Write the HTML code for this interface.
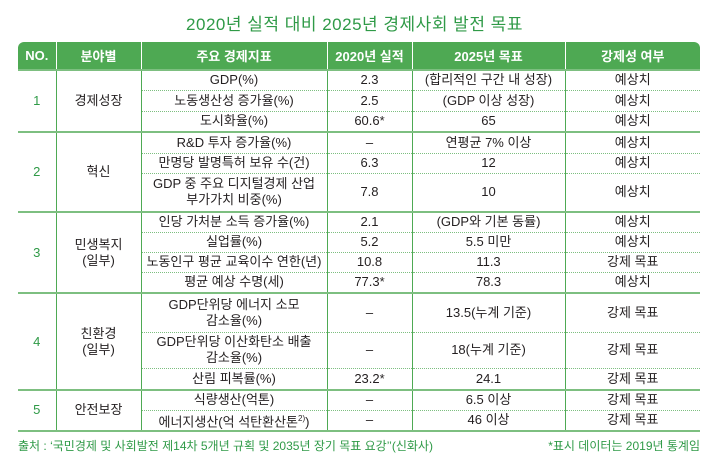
<!DOCTYPE html>
<html><head><meta charset="utf-8">
<style>
body{margin:0;width:709px;height:461px;background:#fff;font-family:"Liberation Sans","Noto Sans CJK KR",sans-serif;color:#231f20;position:relative;overflow:hidden}
.title{position:absolute;left:0;width:709px;top:10px;text-align:center;font-size:17px;color:#2f9a47;letter-spacing:0.5px}
table{position:absolute;left:18px;top:42px;border-collapse:collapse;table-layout:fixed;width:682px;font-size:13px}
th{background:#4ea953;color:#fff;font-weight:bold;height:27px;padding:0;border-left:1px solid #fff;font-size:13px}
th:first-child{border-left:none;border-top-left-radius:6px}
th:last-child{border-top-right-radius:6px}
td{padding:0;text-align:center;border-left:1px solid #4ea953;border-top:1px dotted #7dbf80;line-height:16px;color:#231f20}
td.g{border-top:2px solid #7dbf80}
td.num{border-left:none;color:#2f9a47}
tr.last td{border-bottom:2px solid #7dbf80}
.foot{position:absolute;top:437px;font-size:12px;color:#2f9a47}
</style></head><body>
<div class="title">2020년 실적 대비 2025년 경제사회 발전 목표</div>
<table>
<colgroup><col style="width:38px"><col style="width:85px"><col style="width:186px"><col style="width:85px"><col style="width:153px"><col style="width:135px"></colgroup>
<tr><th>NO.</th><th>분야별</th><th>주요 경제지표</th><th>2020년 실적</th><th>2025년 목표</th><th>강제성 여부</th></tr>
<tr style="height:20px"><td class="g num" rowspan="3">1</td><td class="g" rowspan="3">경제성장</td><td class="g">GDP(%)</td><td class="g">2.3</td><td class="g">(합리적인 구간 내 성장)</td><td class="g">예상치</td></tr>
<tr style="height:21px"><td>노동생산성 증가율(%)</td><td>2.5</td><td>(GDP 이상 성장)</td><td>예상치</td></tr>
<tr style="height:21px"><td>도시화율(%)</td><td>60.6*</td><td>65</td><td>예상치</td></tr>
<tr style="height:21px"><td class="g num" rowspan="3">2</td><td class="g" rowspan="3">혁신</td><td class="g">R&amp;D 투자 증가율(%)</td><td class="g">–</td><td class="g">연평균 7% 이상</td><td class="g">예상치</td></tr>
<tr style="height:20px"><td>만명당 발명특허 보유 수(건)</td><td>6.3</td><td>12</td><td>예상치</td></tr>
<tr style="height:39px"><td>GDP 중 주요 디지털경제 산업<br>부가가치 비중(%)</td><td>7.8</td><td>10</td><td>예상치</td></tr>
<tr style="height:20px"><td class="g num" rowspan="4">3</td><td class="g" rowspan="4">민생복지<br>(일부)</td><td class="g">인당 가처분 소득 증가율(%)</td><td class="g">2.1</td><td class="g">(GDP와 기본 동률)</td><td class="g">예상치</td></tr>
<tr style="height:20px"><td>실업률(%)</td><td>5.2</td><td>5.5 미만</td><td>예상치</td></tr>
<tr style="height:20px"><td>노동인구 평균 교육이수 연한(년)</td><td>10.8</td><td>11.3</td><td>강제 목표</td></tr>
<tr style="height:21px"><td>평균 예상 수명(세)</td><td>77.3*</td><td>78.3</td><td>예상치</td></tr>
<tr style="height:39px"><td class="g num" rowspan="3">4</td><td class="g" rowspan="3">친환경<br>(일부)</td><td class="g">GDP단위당 에너지 소모<br>감소율(%)</td><td class="g">–</td><td class="g">13.5(누계 기준)</td><td class="g">강제 목표</td></tr>
<tr style="height:36px"><td>GDP단위당 이산화탄소 배출<br>감소율(%)</td><td>–</td><td>18(누계 기준)</td><td>강제 목표</td></tr>
<tr style="height:22px"><td>산림 피복률(%)</td><td>23.2*</td><td>24.1</td><td>강제 목표</td></tr>
<tr style="height:20px"><td class="g num" rowspan="2" style="border-bottom:2px solid #7dbf80">5</td><td class="g" rowspan="2" style="border-bottom:2px solid #7dbf80">안전보장</td><td class="g">식량생산(억톤)</td><td class="g">–</td><td class="g">6.5 이상</td><td class="g">강제 목표</td></tr>
<tr class="last" style="height:20px"><td>에너지생산(억 석탄환산톤<sup style="font-size:8px">2)</sup>)</td><td>–</td><td>46 이상</td><td>강제 목표</td></tr>
</table>
<div class="foot" style="left:18px">출처 : ‘국민경제 및 사회발전 제14차 5개년 규획 및 2035년 장기 목표 요강’’(신화사)</div>
<div class="foot" style="right:9px">*표시 데이터는 2019년 통계임</div>
</body></html>
